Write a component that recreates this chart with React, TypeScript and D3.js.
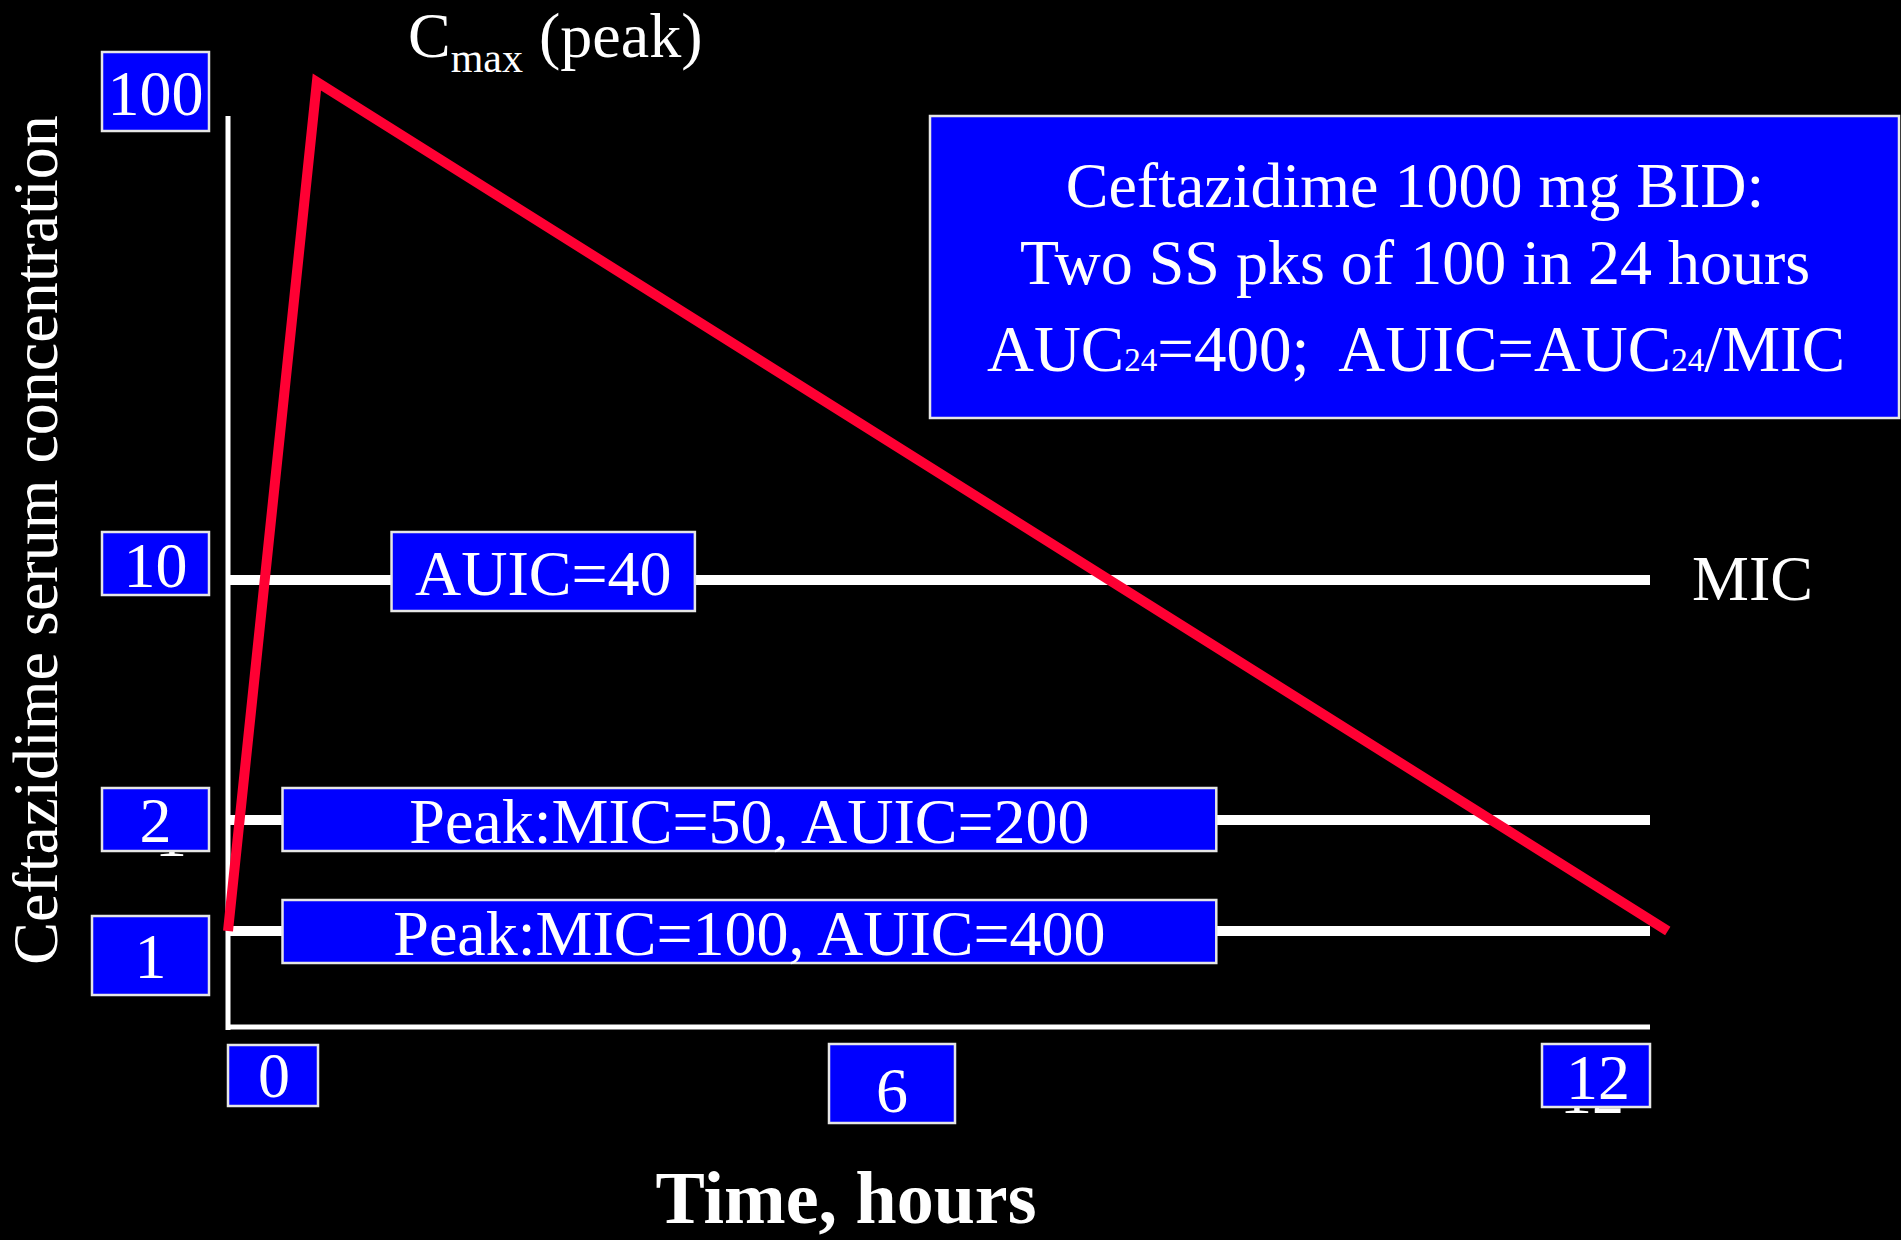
import React from "react";
import * as d3 from "d3";

// ---------- data ----------
const timeHours = [0, 0.75, 12.15];
const concentration = [1, 100, 1];
const yTickValues = [100, 10, 2, 1];
const yTickLabels = ["100", "10", "2", "1"];
const xTickValues = [0, 6, 12];
const xTickLabels = ["0", "6", "12"];
const refLevels = [10, 2, 1];
const annotationTexts = ["AUIC=40", "Peak:MIC=50, AUIC=200", "Peak:MIC=100, AUIC=400"];
const annotationLevels = [10, 2, 1];
const annotationStart = [1.38, 0.46, 0.46];
const annotationEnd = [3.94, 8.34, 8.34];
const infoLines = ["Ceftazidime 1000 mg BID:", "Two SS pks of 100 in 24 hours"];

// ---------- layout ----------
const W = 1901;
const H = 1240;
const FONT = "'Liberation Serif', 'Times New Roman', serif";
const RED = "#FF0033";
const BLUE = "#0000FF";
const BOX_STROKE = "#e6e6e6";

const yBoxLayout = [
  { x0: 102, x1: 209, top: -30, bottom: 49, base: 33 },
  { x0: 102, x1: 209, top: -48, bottom: 15, base: 7 },
  { x0: 102, x1: 209, top: -32, bottom: 31, base: 22 },
  { x0: 92, x1: 209, top: -15, bottom: 64, base: 47 },
];
const xBoxLayout = [
  { left: 0, right: 90, top: 1045, bottom: 1106, cx: 46, base: 1097 },
  { left: -110, right: 16, top: 1044, bottom: 1123, cx: -47, base: 1112 },
  { left: -108, right: 0, top: 1044, bottom: 1107, cx: -52, base: 1099 },
];
const annLayout = [
  { top: -48, bottom: 31, base: 15 },
  { top: -32, bottom: 31, base: 23 },
  { top: -31, bottom: 32, base: 24 },
];

export default function App() {
  const x = d3.scaleLinear().domain([0, 12]).range([228, 1650]);
  const y = d3.scaleLog().domain([1, 2, 10, 100]).range([931, 820, 580, 82]);

  const pts: [number, number][] = timeHours.map((t, i) => [x(t), y(concentration[i])]);
  const linePath = d3.line()(pts) || "";

  const textStyle = { fontFamily: FONT, fill: "#fff" } as const;

  return (
    <svg
      width={W}
      height={H}
      style={{ position: "absolute", left: 0, top: 0, display: "block" }}
    >
      <rect x={0} y={0} width={W} height={H} fill="#000" />

      {/* Y axis title */}
      <text
        transform={`translate(57,540) rotate(-90)`}
        textAnchor="middle"
        fontSize={64}
        style={textStyle}
      >
        Ceftazidime serum concentration
      </text>

      {/* axes */}
      <line x1={x(0)} x2={x(0)} y1={116} y2={1030} stroke="#fff" strokeWidth={5} />
      <line x1={x(0)} x2={x(12)} y1={1027} y2={1027} stroke="#fff" strokeWidth={5} />

      {/* reference lines */}
      {refLevels.map((v, i) => (
        <line
          key={"ref" + i}
          x1={x(0) + 2}
          x2={x(12)}
          y1={y(v)}
          y2={y(v)}
          stroke="#fff"
          strokeWidth={10}
        />
      ))}

      <text x={1692} y={600} fontSize={64} style={textStyle}>
        MIC
      </text>

      {/* hidden text fragments peeking under boxes */}
      <text x={171} y={856} fontSize={64} textAnchor="middle" style={textStyle}>
        1
      </text>
      <text x={1592} y={1113} fontSize={64} textAnchor="middle" style={textStyle}>
        12
      </text>

      {/* y tick boxes */}
      {yTickValues.map((v, i) => {
        const L = yBoxLayout[i];
        const yy = y(v);
        return (
          <g key={"yt" + i}>
            <rect
              x={L.x0}
              y={yy + L.top}
              width={L.x1 - L.x0}
              height={L.bottom - L.top}
              fill={BLUE}
              stroke={BOX_STROKE}
              strokeWidth={2.5}
            />
            <text
              x={(L.x0 + L.x1) / 2}
              y={yy + L.base}
              textAnchor="middle"
              fontSize={64}
              style={textStyle}
            >
              {yTickLabels[i]}
            </text>
          </g>
        );
      })}

      {/* x tick boxes */}
      {xTickValues.map((v, i) => {
        const L = xBoxLayout[i];
        const xx = x(v);
        return (
          <g key={"xt" + i}>
            <rect
              x={xx + L.left}
              y={L.top}
              width={L.right - L.left}
              height={L.bottom - L.top}
              fill={BLUE}
              stroke={BOX_STROKE}
              strokeWidth={2.5}
            />
            <text
              x={xx + L.cx}
              y={L.base}
              textAnchor="middle"
              fontSize={64}
              style={textStyle}
            >
              {xTickLabels[i]}
            </text>
          </g>
        );
      })}

      {/* annotation boxes */}
      {annotationTexts.map((t, i) => {
        const L = annLayout[i];
        const yy = y(annotationLevels[i]);
        const x0 = x(annotationStart[i]);
        const x1 = x(annotationEnd[i]);
        return (
          <g key={"ann" + i}>
            <rect
              x={x0}
              y={yy + L.top}
              width={x1 - x0}
              height={L.bottom - L.top}
              fill={BLUE}
              stroke={BOX_STROKE}
              strokeWidth={2.5}
            />
            <text
              x={(x0 + x1) / 2}
              y={yy + L.base}
              textAnchor="middle"
              fontSize={64}
              style={textStyle}
            >
              {t}
            </text>
          </g>
        );
      })}

      {/* concentration curve */}
      <path d={linePath} fill="none" stroke={RED} strokeWidth={10} strokeLinejoin="miter" />

      {/* Cmax label */}
      <text x={408} y={57} fontSize={64} style={textStyle}>
        C
        <tspan fontSize={42} dy={15}>max</tspan>
        <tspan fontSize={64} dy={-15}> (peak)</tspan>
      </text>

      {/* info box */}
      <rect x={930} y={116} width={969} height={302} fill={BLUE} stroke={BOX_STROKE} strokeWidth={2.5} />
      {infoLines.map((l, i) => (
        <text
          key={"info" + i}
          x={1415}
          y={207 + i * 77}
          textAnchor="middle"
          fontSize={64}
          style={textStyle}
        >
          {l}
        </text>
      ))}
      <text
        x={1416}
        y={371}
        textAnchor="middle"
        fontSize={65}
        style={{ ...textStyle, whiteSpace: "pre" }}
      >
        AUC
        <tspan fontSize={33}>24</tspan>
        <tspan>{"=400;  AUIC=AUC"}</tspan>
        <tspan fontSize={33}>24</tspan>
        <tspan>/MIC</tspan>
      </text>

      {/* X axis title */}
      <text x={846} y={1223} textAnchor="middle" fontSize={74} fontWeight="bold" style={textStyle}>
        Time, hours
      </text>
    </svg>
  );
}
